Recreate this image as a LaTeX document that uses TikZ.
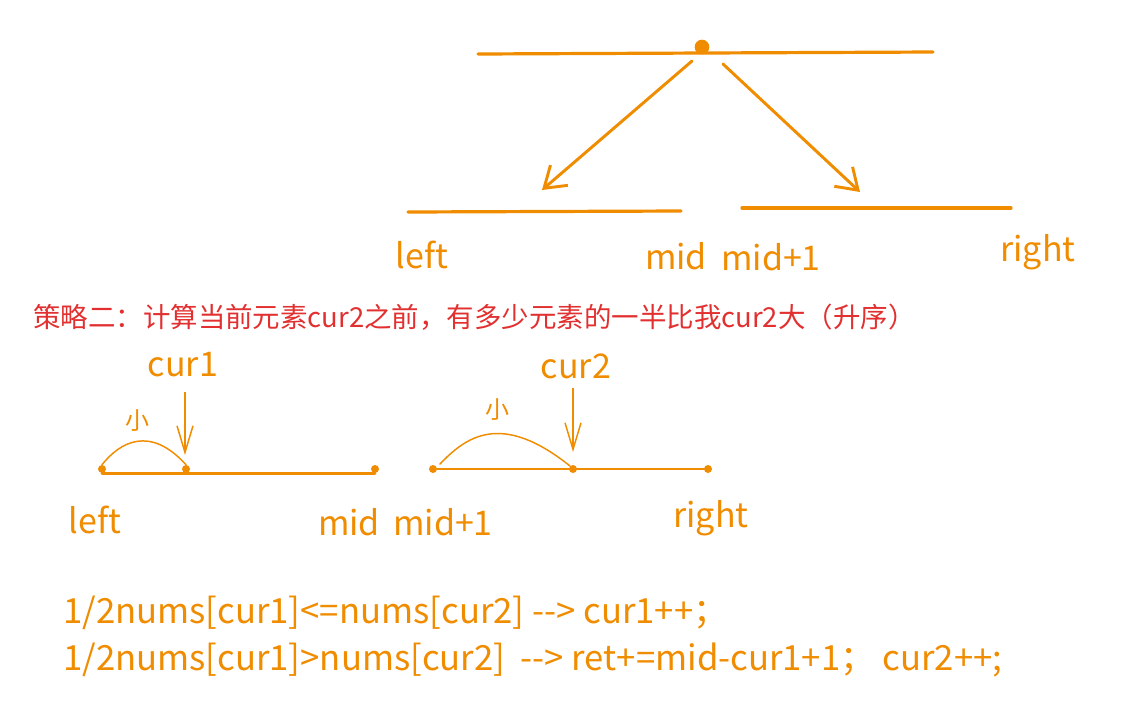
\documentclass[tikz,border=0pt]{standalone}
\usepackage{fontspec}
\setmainfont{Noto Sans CJK SC}
\usetikzlibrary{arrows.meta}
\definecolor{org}{RGB}{240,140,0}
\definecolor{redt}{RGB}{226,48,48}
\begin{document}
\begin{tikzpicture}[x=0.75pt,y=-0.75pt,
  thick line/.style={draw=org,line width=2.4pt,line cap=round},
  mid line/.style={draw=org,line width=2.2pt,line cap=round},
  thin line/.style={draw=org,line width=1.1pt,line cap=round},
  big arrow/.style={draw=org,line width=2.2pt,line cap=round,-{Straight Barb[length=15pt,width=20pt,line width=2.2pt]}},
  small arrow/.style={draw=org,line width=1.1pt,-{Straight Barb[length=20pt,width=12pt,line width=1.1pt]}},
  lbl/.style={text=org,inner sep=0pt,font=\fontsize{25.5}{28}\selectfont},
  code/.style={text=org,inner sep=0pt,font=\fontsize{26}{30}\selectfont},
  small lbl/.style={text=org,inner sep=0pt,font=\fontsize{18}{20}\selectfont},
  dot/.style={circle,fill=org,inner sep=0pt,minimum size=#1},
]
\useasboundingbox (0,0) rectangle (1122,719);
% ---------- top part ----------
\coordinate (tA) at (478,54);
\coordinate (tB) at (933,52);
\draw[thick line] (tA) -- (tB);
\node[dot=11pt] (top) at (702,47) {};
\coordinate (s1) at (692,61);
\coordinate (e1) at (542,190);
\coordinate (s2) at (723,64);
\coordinate (e2) at (860,192);
\draw[big arrow] (s1) -- (e1);
\draw[big arrow] (s2) -- (e2);
\coordinate (lA) at (408,212);
\coordinate (lB) at (681,211);
\coordinate (rA) at (742,208);
\coordinate (rB) at (1011,208);
\draw[thick line] (lA) -- (lB);
\draw[thick line] (rA) -- (rB);
\node[lbl] (tleft) at (422,255) {left};
\node[lbl] (tmid) at (676,256) {mid};
\node[lbl] (tmid1) at (771,257) {mid+1};
\node[lbl] (tright) at (1038,252) {right};
% ---------- strategy ----------
\node[text=redt,inner sep=0pt,anchor=west,font=\fontsize{20.6}{24}\selectfont] (strat) at (33,317)
  {策略二：计算当前元素cur2之前，有多少元素的一半比我cur2大（升序）};
% ---------- middle part ----------
\node[dot=6pt] (a1) at (102,469) {};
\node[dot=6pt] (a2) at (186,469) {};
\node[dot=6pt] (a3) at (375,469) {};
\draw[mid line] (a1.south) -- (a3.south);
\draw[thin line] (a1.north) .. controls (120,442) and (150,425) .. (a2.north);
\node[small lbl] (x1) at (137,421) {小};
\node[lbl] (cur1) at (183,365) {cur1};
\coordinate (c1s) at (185,392);
\draw[small arrow] (c1s) -- (185,455);
\node[dot=6pt] (b1) at (433,469) {};
\node[dot=6pt] (b2) at (573,469) {};
\node[dot=6pt] (b3) at (708,469) {};
\draw[mid line] (b1) -- (b3);
\draw[thin line] (440,464) .. controls (465,438) and (500,410) .. (b2.north west);
\node[small lbl] (x2) at (497,410) {小};
\node[lbl] (cur2) at (576,366) {cur2};
\coordinate (c2s) at (573,388);
\draw[small arrow] (c2s) -- (573,452);
\node[lbl] (mleft) at (95,520) {left};
\node[lbl] (mmid) at (349,522) {mid};
\node[lbl] (mmid1) at (443,522) {mid+1};
\node[lbl] (mright) at (711,518) {right};
% ---------- bottom ----------
\node[code,anchor=west] (l1) at (63,613) {1/2nums[cur1]<=nums[cur2] -{}-> cur1++；};
\node[code,anchor=west] (l2) at (63,660) {1/2nums[cur1]>nums[cur2]\ \ -{}-> ret+=mid-cur1+1；\ cur2++;};
\end{tikzpicture}
\end{document}
